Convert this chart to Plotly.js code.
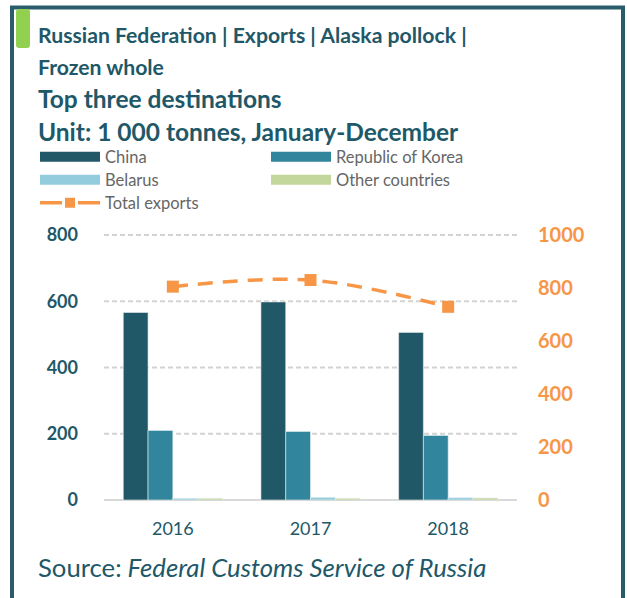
<!DOCTYPE html>
<html>
<head>
<meta charset="utf-8">
<script src="https://cdn.plot.ly/plotly-3.0.1.min.js"></script>
<style>html,body{margin:0;padding:0;background:#fff;}#chart{width:627px;height:598px;}</style>
</head>
<body>
<div id="chart"></div>
<script>
// ---- data ----
const years = ['2016', '2017', '2018'];
const china = [566, 598, 506];
const korea = [210, 207, 195];
const belarus = [5, 8, 7];
const otherCountries = [5, 5, 6];
const totalExports = [805, 830, 729];
const seriesNames = ['China', 'Republic of Korea', 'Belarus', 'Other countries', 'Total exports'];
const leftTicks = [0, 200, 400, 600, 800];
const rightTicks = [0, 200, 400, 600, 800, 1000];

// ---- style ----
const W = 627, H = 598;
const PL = 104, PR = 517, PT = 234, PB = 500;
const px = x => (x - PL) / (PR - PL);
const py = y => (PB - y) / (PB - PT);
const teal = '#215868';
const colors = ['#215868', '#31859C', '#93CDDD', '#C3D69B'];
const orange = '#F79646';
const mainFont = 'Lato, "Open Sans", sans-serif';
// axis tops chosen so the 800 / 1000 gridline sits at y≈235
const yTop = 800 * (PB - PT) / (PB - 235);
const y2Top = 1000 * (PB - PT) / (PB - 235);

const barSeries = [china, korea, belarus, otherCountries];
const traces = [];
barSeries.forEach((vals, i) => {
  traces.push({
    type: 'bar', x: years, y: vals, name: seriesNames[i], showlegend: false,
    marker: {color: colors[i], line: {color: '#e8eef0', width: 0.6}},
    hoverinfo: 'x+y+name'
  });
});
traces.push({
  type: 'scatter', mode: 'lines+markers', x: years, y: totalExports, yaxis: 'y2',
  name: seriesNames[4], showlegend: false,
  line: {color: orange, width: 3.5, dash: '15px,10px', shape: 'spline'},
  marker: {symbol: 'square', size: 12, color: orange}
});
// legend entries (one legend box per entry, placed like the reference)
const legendIds = ['legend', 'legend2', 'legend3', 'legend4'];
barSeries.forEach((vals, i) => {
  traces.push({
    type: 'scatter', mode: 'lines', x: [null], y: [null], name: seriesNames[i],
    legend: legendIds[i], showlegend: true, hoverinfo: 'skip',
    line: {color: colors[i], width: 10}
  });
});
traces.push({
  type: 'scatter', mode: 'lines+markers', x: [null], y: [null], name: seriesNames[4],
  legend: 'legend5', showlegend: true, hoverinfo: 'skip',
  line: {color: orange, width: 3.5, dash: '22px,16px'},
  marker: {symbol: 'square', size: 10, color: orange}
});

const legendBase = {
  orientation: 'v', xref: 'container', yref: 'container', xanchor: 'left', yanchor: 'middle',
  font: {family: mainFont, size: 16.5, color: '#666666'}, bgcolor: 'rgba(0,0,0,0)',
  itemwidth: 60, traceorder: 'normal'
};
const legPos = (x, y) => Object.assign({}, legendBase, {x: x / W, y: 1 - y / H});

const ann = [];
function addText(text, x, y, font) {
  ann.push({text: text, xref: 'paper', yref: 'paper', x: px(x), y: py(y), xanchor: 'left', yanchor: 'middle',
    showarrow: false, font: font});
}
addText('<b>Russian Federation | Exports | Alaska pollock |</b>', 36, 35, {family: mainFont, size: 21.2, color: teal});
addText('<b>Frozen whole</b>', 36, 67, {family: mainFont, size: 21.2, color: teal});
addText('<b>Top three destinations</b>', 36, 99, {family: mainFont, size: 24.5, color: teal});
addText('<b>Unit: 1 000 tonnes, January-December</b>', 36, 131, {family: mainFont, size: 24.5, color: teal});
addText('Source:<i> Federal Customs Service of Russia</i>', 36, 567, {family: mainFont, size: 25.7, color: teal});

const shapes = [
  {type: 'rect', xref: 'paper', yref: 'paper', x0: px(12), x1: px(623), y0: py(7.5), y1: py(620),
   line: {color: '#2B5C6B', width: 4}, fillcolor: 'rgba(0,0,0,0)', layer: 'above'},
  {type: 'path', xref: 'paper', yref: 'paper',
   path: 'M ' + px(19) + ' ' + py(9) + ' L ' + px(27) + ' ' + py(9) + ' Q ' + px(30) + ' ' + py(9) + ' ' + px(30) + ' ' + py(12) +
         ' L ' + px(30) + ' ' + py(45) + ' Q ' + px(30) + ' ' + py(48) + ' ' + px(27) + ' ' + py(48) +
         ' L ' + px(19) + ' ' + py(48) + ' Q ' + px(16) + ' ' + py(48) + ' ' + px(16) + ' ' + py(45) +
         ' L ' + px(16) + ' ' + py(12) + ' Q ' + px(16) + ' ' + py(9) + ' ' + px(19) + ' ' + py(9) + ' Z',
   line: {width: 0}, fillcolor: '#92D050', layer: 'above'}
];
// dashed gridlines placed through the left axis scale
leftTicks.filter(v => v > 0).forEach(v => {
  shapes.push({type: 'line', xref: 'paper', yref: 'y', x0: 0, x1: 1, y0: v, y1: v,
    line: {color: '#d3d3d3', width: 2, dash: '5px,3px'}, layer: 'below'});
});

const layout = {
  width: W, height: H,
  margin: {l: PL, r: W - PR, t: PT, b: H - PB, pad: 0, autoexpand: false},
  paper_bgcolor: '#ffffff', plot_bgcolor: 'rgba(0,0,0,0)',
  barmode: 'group', bargap: 0.28, bargroupgap: 0,
  font: {family: mainFont, color: teal},
  xaxis: {
    type: 'category', tickfont: {family: mainFont, size: 18, color: teal},
    showgrid: false, showline: false, ticks: '', ticklabelstandoff: 16, fixedrange: true
  },
  yaxis: {
    range: [0, yTop], tickvals: leftTicks, ticktext: leftTicks.map(String),
    tickfont: {family: mainFont, size: 18, color: teal, weight: 'bold'},
    showgrid: false,
    zeroline: true, zerolinecolor: '#d9d9d9', zerolinewidth: 2.5,
    showline: false, ticks: '', ticklabelstandoff: 25, fixedrange: true
  },
  yaxis2: {
    range: [0, y2Top], tickvals: rightTicks, ticktext: rightTicks.map(String),
    overlaying: 'y', side: 'right',
    tickfont: {family: mainFont, size: 20, color: orange, weight: 'bold'},
    showgrid: false, zeroline: false, showline: false, ticks: '', ticklabelstandoff: 20, fixedrange: true
  },
  legend: legPos(35, 157),
  legend2: legPos(266, 157),
  legend3: legPos(35, 180),
  legend4: legPos(266, 180),
  legend5: legPos(35, 203),
  annotations: ann,
  shapes: shapes,
  showlegend: true
};

Plotly.newPlot('chart', traces, layout, {displayModeBar: false, staticPlot: true});
</script>
</body>
</html>
